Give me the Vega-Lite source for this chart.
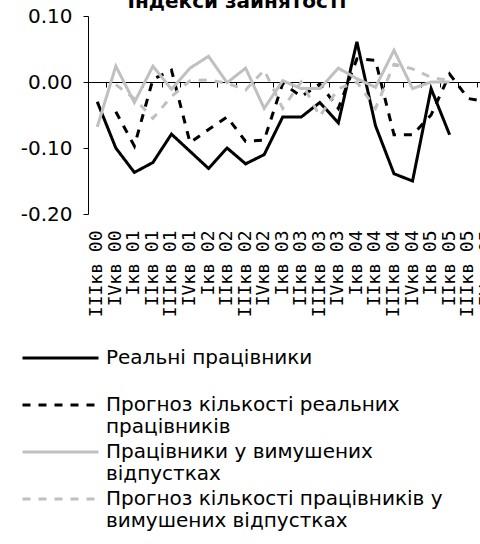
{
  "$schema": "https://vega.github.io/schema/vega-lite/v6.json",
  "width": 408,
  "height": 198,
  "autosize": {"type": "none"},
  "padding": {"left": 88, "top": 16, "right": 0, "bottom": 330},
  "background": "white",
  "title": {"text": "Індекси зайнятості", "font": "DejaVu Sans", "fontSize": 20, "fontWeight": "bold", "color": "black", "anchor": "middle", "dx": -55, "offset": -6},
  "config": {"view": {"stroke": null}, "font": "DejaVu Sans"},
  "data": {"values": [
    {"q": "IIIкв 00", "s": "Реальні працівники", "v": -0.030},
    {"q": "IVкв 00", "s": "Реальні працівники", "v": -0.100},
    {"q": "Iкв 01", "s": "Реальні працівники", "v": -0.137},
    {"q": "IIкв 01", "s": "Реальні працівники", "v": -0.122},
    {"q": "IIIкв 01", "s": "Реальні працівники", "v": -0.079},
    {"q": "IVкв 01", "s": "Реальні працівники", "v": -0.105},
    {"q": "Iкв 02", "s": "Реальні працівники", "v": -0.131},
    {"q": "IIкв 02", "s": "Реальні працівники", "v": -0.100},
    {"q": "IIIкв 02", "s": "Реальні працівники", "v": -0.124},
    {"q": "IVкв 02", "s": "Реальні працівники", "v": -0.110},
    {"q": "Iкв 03", "s": "Реальні працівники", "v": -0.053},
    {"q": "IIкв 03", "s": "Реальні працівники", "v": -0.053},
    {"q": "IIIкв 03", "s": "Реальні працівники", "v": -0.031},
    {"q": "IVкв 03", "s": "Реальні працівники", "v": -0.062},
    {"q": "Iкв 04", "s": "Реальні працівники", "v": 0.061},
    {"q": "IIкв 04", "s": "Реальні працівники", "v": -0.066},
    {"q": "IIIкв 04", "s": "Реальні працівники", "v": -0.139},
    {"q": "IVкв 04", "s": "Реальні працівники", "v": -0.150},
    {"q": "Iкв 05", "s": "Реальні працівники", "v": -0.010},
    {"q": "IIкв 05", "s": "Реальні працівники", "v": -0.080},

    {"q": "IVкв 00", "s": "Прогноз кількості реальних працівників", "v": -0.045},
    {"q": "Iкв 01", "s": "Прогноз кількості реальних працівників", "v": -0.097},
    {"q": "IIкв 01", "s": "Прогноз кількості реальних працівників", "v": 0.004},
    {"q": "IIIкв 01", "s": "Прогноз кількості реальних працівників", "v": 0.018},
    {"q": "IVкв 01", "s": "Прогноз кількості реальних працівників", "v": -0.092},
    {"q": "Iкв 02", "s": "Прогноз кількості реальних працівників", "v": -0.072},
    {"q": "IIкв 02", "s": "Прогноз кількості реальних працівників", "v": -0.053},
    {"q": "IIIкв 02", "s": "Прогноз кількості реальних працівників", "v": -0.090},
    {"q": "IVкв 02", "s": "Прогноз кількості реальних працівників", "v": -0.088},
    {"q": "Iкв 03", "s": "Прогноз кількості реальних працівників", "v": -0.002},
    {"q": "IIкв 03", "s": "Прогноз кількості реальних працівників", "v": -0.022},
    {"q": "IIIкв 03", "s": "Прогноз кількості реальних працівників", "v": -0.003},
    {"q": "IVкв 03", "s": "Прогноз кількості реальних працівників", "v": -0.040},
    {"q": "Iкв 04", "s": "Прогноз кількості реальних працівників", "v": 0.035},
    {"q": "IIкв 04", "s": "Прогноз кількості реальних працівників", "v": 0.033},
    {"q": "IIIкв 04", "s": "Прогноз кількості реальних працівників", "v": -0.080},
    {"q": "IVкв 04", "s": "Прогноз кількості реальних працівників", "v": -0.080},
    {"q": "Iкв 05", "s": "Прогноз кількості реальних працівників", "v": -0.050},
    {"q": "IIкв 05", "s": "Прогноз кількості реальних працівників", "v": 0.012},
    {"q": "IIIкв 05", "s": "Прогноз кількості реальних працівників", "v": -0.025},
    {"q": "IVкв 05", "s": "Прогноз кількості реальних працівників", "v": -0.030},

    {"q": "IIIкв 00", "s": "Працівники у вимушених відпустках", "v": -0.068},
    {"q": "IVкв 00", "s": "Працівники у вимушених відпустках", "v": 0.024},
    {"q": "Iкв 01", "s": "Працівники у вимушених відпустках", "v": -0.031},
    {"q": "IIкв 01", "s": "Працівники у вимушених відпустках", "v": 0.024},
    {"q": "IIIкв 01", "s": "Працівники у вимушених відпустках", "v": -0.011},
    {"q": "IVкв 01", "s": "Працівники у вимушених відпустках", "v": 0.021},
    {"q": "Iкв 02", "s": "Працівники у вимушених відпустках", "v": 0.039},
    {"q": "IIкв 02", "s": "Працівники у вимушених відпустках", "v": -0.001},
    {"q": "IIIкв 02", "s": "Працівники у вимушених відпустках", "v": 0.021},
    {"q": "IVкв 02", "s": "Працівники у вимушених відпустках", "v": -0.040},
    {"q": "Iкв 03", "s": "Працівники у вимушених відпустках", "v": 0.002},
    {"q": "IIкв 03", "s": "Працівники у вимушених відпустках", "v": -0.010},
    {"q": "IIIкв 03", "s": "Працівники у вимушених відпустках", "v": -0.010},
    {"q": "IVкв 03", "s": "Працівники у вимушених відпустках", "v": 0.021},
    {"q": "Iкв 04", "s": "Працівники у вимушених відпустках", "v": 0.005},
    {"q": "IIкв 04", "s": "Працівники у вимушених відпустках", "v": -0.008},
    {"q": "IIIкв 04", "s": "Працівники у вимушених відпустках", "v": 0.048},
    {"q": "IVкв 04", "s": "Працівники у вимушених відпустках", "v": -0.010},
    {"q": "Iкв 05", "s": "Працівники у вимушених відпустках", "v": 0.000},
    {"q": "IIкв 05", "s": "Працівники у вимушених відпустках", "v": 0.000},

    {"q": "IVкв 00", "s": "Прогноз кількості працівників у вимушених відпустках", "v": -0.004},
    {"q": "Iкв 01", "s": "Прогноз кількості працівників у вимушених відпустках", "v": -0.025},
    {"q": "IIкв 01", "s": "Прогноз кількості працівників у вимушених відпустках", "v": -0.055},
    {"q": "IIIкв 01", "s": "Прогноз кількості працівників у вимушених відпустках", "v": -0.022},
    {"q": "IVкв 01", "s": "Прогноз кількості працівників у вимушених відпустках", "v": 0.002},
    {"q": "Iкв 02", "s": "Прогноз кількості працівників у вимушених відпустках", "v": 0.003},
    {"q": "IIкв 02", "s": "Прогноз кількості працівників у вимушених відпустках", "v": -0.002},
    {"q": "IIIкв 02", "s": "Прогноз кількості працівників у вимушених відпустках", "v": -0.012},
    {"q": "IVкв 02", "s": "Прогноз кількості працівників у вимушених відпустках", "v": 0.018},
    {"q": "Iкв 03", "s": "Прогноз кількості працівників у вимушених відпустках", "v": -0.040},
    {"q": "IIкв 03", "s": "Прогноз кількості працівників у вимушених відпустках", "v": 0.000},
    {"q": "IIIкв 03", "s": "Прогноз кількості працівників у вимушених відпустках", "v": -0.052},
    {"q": "IVкв 03", "s": "Прогноз кількості працівників у вимушених відпустках", "v": -0.010},
    {"q": "Iкв 04", "s": "Прогноз кількості працівників у вимушених відпустках", "v": 0.000},
    {"q": "IIкв 04", "s": "Прогноз кількості працівників у вимушених відпустках", "v": -0.040},
    {"q": "IIIкв 04", "s": "Прогноз кількості працівників у вимушених відпустках", "v": 0.027},
    {"q": "IVкв 04", "s": "Прогноз кількості працівників у вимушених відпустках", "v": 0.020},
    {"q": "Iкв 05", "s": "Прогноз кількості працівників у вимушених відпустках", "v": 0.007},
    {"q": "IIкв 05", "s": "Прогноз кількості працівників у вимушених відпустках", "v": 0.002}
  ]},
  "resolve": {"axis": {"x": "independent"}},
  "layer": [
    {
      "mark": {"type": "line", "strokeWidth": 3},
      "encoding": {
        "x": {
          "field": "q", "type": "ordinal", "sort": null, "bandPosition": 0.5,
          "scale": {"type": "band", "paddingInner": 0, "paddingOuter": 0},
          "axis": {"title": null, "domain": false, "ticks": false, "labelAngle": 270, "labelFont": "DejaVu Sans Mono", "labelFontSize": 18, "labelColor": "black", "labelPadding": 16, "labelOverlap": false}
        },
        "y": {
          "field": "v", "type": "quantitative",
          "scale": {"domain": [-0.2, 0.1], "nice": false, "zero": false},
          "axis": {"title": null, "values": [-0.2, -0.15, -0.1, -0.05, 0, 0.05, 0.1], "labelExpr": "replace(format(datum.value, '.2f'), '−', '-')", "labelFont": "DejaVu Sans", "labelFontSize": 20, "labelColor": "black", "domainColor": "black", "tickColor": "black", "tickSize": 5, "labelPadding": 11, "grid": false}
        },
        "color": {
          "field": "s", "type": "nominal", "sort": null,
          "scale": {"domain": ["Реальні працівники", "Прогноз кількості реальних працівників", "Працівники у вимушених відпустках", "Прогноз кількості працівників у вимушених відпустках"], "range": ["#000000", "#000000", "#c0c0c0", "#c0c0c0"]},
          "legend": {"title": null, "orient": "none", "legendX": -67, "legendY": 331, "direction": "vertical", "padding": 0, "rowPadding": 4, "clipHeight": 22, "symbolType": "stroke", "symbolSize": 5776, "symbolStrokeWidth": 3, "labelFont": "DejaVu Sans", "labelFontSize": 20, "labelColor": "black", "labelOffset": 6, "labelLimit": 0,
            "labelExpr": "datum.label == 'Прогноз кількості реальних працівників' ? ['Прогноз кількості реальних', 'працівників'] : datum.label == 'Працівники у вимушених відпустках' ? ['Працівники у вимушених', 'відпустках'] : datum.label == 'Прогноз кількості працівників у вимушених відпустках' ? ['Прогноз кількості працівників у', 'вимушених відпустках'] : [datum.label, ' ']"}
        },
        "strokeDash": {
          "field": "s", "type": "nominal", "sort": null,
          "scale": {"domain": ["Реальні працівники", "Прогноз кількості реальних працівників", "Працівники у вимушених відпустках", "Прогноз кількості працівників у вимушених відпустках"], "range": [[1, 0], [8, 8], [1, 0], [8, 8]]},
          "legend": {"title": null, "orient": "none", "legendX": -67, "legendY": 331, "direction": "vertical", "padding": 0, "rowPadding": 4, "clipHeight": 22, "symbolType": "stroke", "symbolSize": 5776, "symbolStrokeWidth": 3, "labelFont": "DejaVu Sans", "labelFontSize": 20, "labelColor": "black", "labelOffset": 6, "labelLimit": 0,
            "labelExpr": "datum.label == 'Прогноз кількості реальних працівників' ? ['Прогноз кількості реальних', 'працівників'] : datum.label == 'Працівники у вимушених відпустках' ? ['Працівники у вимушених', 'відпустках'] : datum.label == 'Прогноз кількості працівників у вимушених відпустках' ? ['Прогноз кількості працівників у', 'вимушених відпустках'] : [datum.label, ' ']"}
        }
      }
    },
    {
      "mark": {"type": "line", "opacity": 0},
      "encoding": {
        "x": {
          "field": "q", "type": "ordinal", "sort": null, "bandPosition": 0.5,
          "scale": {"type": "band", "paddingInner": 0, "paddingOuter": 0},
          "axis": {"title": null, "orient": "bottom", "offset": -132, "labels": false, "domain": true, "domainColor": "black", "ticks": true, "tickColor": "black", "tickSize": 5, "bandPosition": 0}
        },
        "y": {"datum": 0, "type": "quantitative"}
      }
    }
  ]
}
